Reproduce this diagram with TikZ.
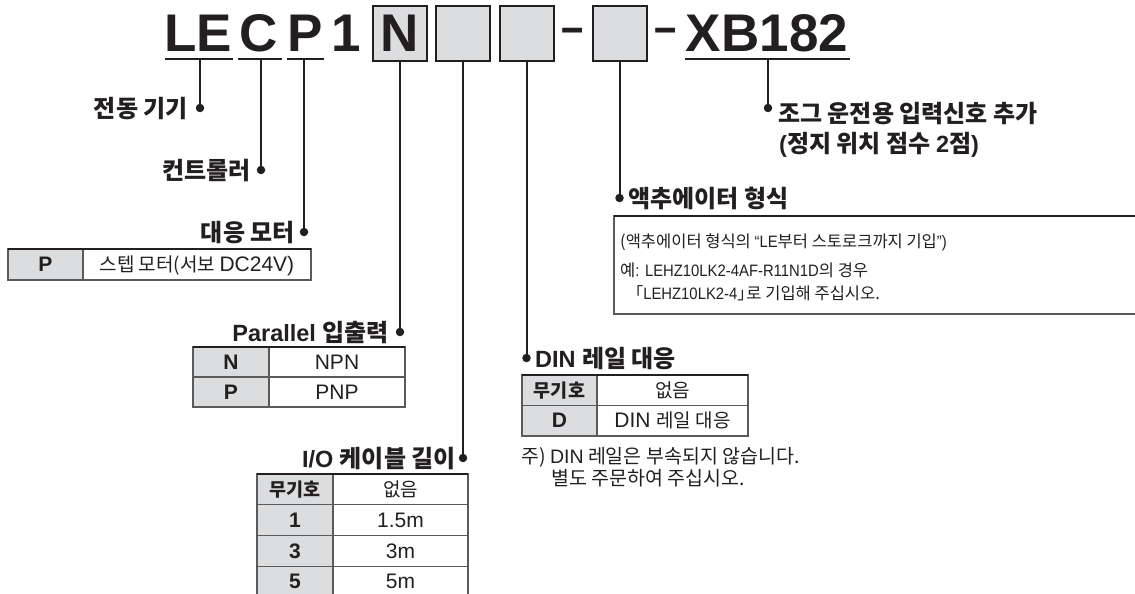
\documentclass[tikz,border=0pt]{standalone}
\usepackage{fontspec}
\setmainfont{Liberation Sans}
\newfontfamily\kr{Noto Sans CJK KR}
\newfontfamily\latc{Liberation Sans}[FakeStretch=0.9]
\def\krsize{18}
\newcommand\K[1]{{\kr\fontsize{\krsize}{\krsize}\selectfont #1}}
\definecolor{ink}{HTML}{231F20}
\definecolor{fillg}{HTML}{DCDDDE}
\definecolor{rulec}{HTML}{5A5A5A}
\tikzset{
  codetxt/.style={font=\bfseries\fontsize{53}{60}\selectfont, text=ink, inner sep=0pt, anchor=base},
  dashtxt/.style={font=\bfseries\fontsize{40}{40}\selectfont, text=ink, inner sep=0pt, anchor=base},
  codebox/.style={draw=ink, fill=fillg, line width=2pt, minimum width=54pt, minimum height=55pt, inner sep=0pt, outer sep=0pt},
  uline/.style={draw=ink, line width=2pt},
  lead/.style={draw=ink, line width=2pt},
  pin/.style={circle, fill=ink, inner sep=0pt, minimum size=8.5pt},
  lbl/.style={font=\bfseries\fontsize{23.5}{30}\selectfont\def\krsize{24}, text=ink, inner sep=0pt},
  txt/.style={font=\fontsize{19.5}{22}\selectfont\def\krsize{19.5}, text=ink, inner sep=0pt},
  smalltxt/.style={font=\latc\fontsize{16.5}{22}\selectfont\def\krsize{16.5}, text=ink, inner sep=0pt},
  cell/.style={draw=rulec, line width=1.3pt, inner sep=0pt, outer sep=0pt, anchor=north west,
    font=\fontsize{21}{22}\selectfont\def\krsize{19}, text=ink, text height=15pt, text depth=0.7pt},
  kcell/.style={cell, fill=fillg, font=\bfseries\fontsize{21}{22}\selectfont\def\krsize{18.5}},
  topline/.style={draw=ink, line width=2.4pt},
}
\begin{document}
\begin{tikzpicture}[x=1pt,y=-1pt]
\useasboundingbox (0,0) rectangle (1135,594);

% ---- model code ----
\node[codetxt] (cLE) at (198,52) {LE};
\node[codetxt] (cC) at (259,52) {C};
\node[codetxt] (cP) at (305,52) {P};
\node[codetxt] (c1) at (346,52) {1};
\node[codebox] (bN) at (400,33.5) {};
\node[codetxt] (cN) at (400,52) {N};
\node[codebox] (b2) at (463,33.5) {};
\node[codebox] (b3) at (526.5,33.5) {};
\node[dashtxt] (d1) at (572.5,43.6) {\scalebox{1}[1.2]{–}};
\node[codebox] (b4) at (619.5,33.5) {};
\node[dashtxt] (d2) at (666,43.6) {\scalebox{1}[1.2]{–}};
\node[codetxt] (cXB) at (767,52) {XB182};

\draw[uline] (165,59.3) -- (233,59.3);
\draw[uline] (238,59.3) -- (282,59.3);
\draw[uline] (287,59.3) -- (324,59.3);
\draw[uline] (685,59.3) -- (850,59.3);

% ---- leader pins ----
\coordinate (uLE) at (200,59.3);
\coordinate (uC) at (261,59.3);
\coordinate (uP) at (304,59.3);
\coordinate (uXB) at (768,59.3);
\node[pin] (pLE) at (200,108) {};
\node[pin] (pC) at (261,170) {};
\node[pin] (pP) at (304,232) {};
\node[pin] (pN) at (400,332) {};
\node[pin] (p2) at (463,458) {};
\node[pin] (p3) at (526.5,358) {};
\node[pin] (p4) at (619.5,198) {};
\node[pin] (pXB) at (768,108) {};
\draw[lead] (uLE) -- (pLE.center);
\draw[lead] (uC) -- (pC.center);
\draw[lead] (uP) -- (pP.center);
\draw[lead] (bN.south) -- (pN.center);
\draw[lead] (b2.south) -- (p2.center);
\draw[lead] (b3.south) -- (p3.center);
\draw[lead] (b4.south) -- (p4.center);
\draw[lead] (uXB) -- (pXB.center);

% ---- labels ----
\node[lbl, anchor=base east] (lLE) at (188,117) {\K{전동 기기}};
\node[lbl, anchor=base east] (lC) at (251,179) {\K{컨트롤러}};
\node[lbl, anchor=base east] (lP) at (295,241) {\K{대응 모터}};
\node[lbl, anchor=base east] (lN) at (389,341) {Parallel \K{입출력}};
\node[lbl, anchor=base east] (l2) at (456,467) {I/O \K{케이블 길이}};
\node[lbl, anchor=base west] (l3) at (535,367) {DIN \K{레일 대응}};
\node[lbl, anchor=base west] (l4) at (628,207) {\K{액추에이터 형식}};
\node[lbl, anchor=base west] (lXB) at (778,122) {\K{조그 운전용 입력신호 추가}};
\node[lbl, anchor=base west] (lXBb) at (779,152) {(\K{정지 위치 점수 }2\K{점})};

% ---- motor table ----
\node[kcell, minimum width=75pt, minimum height=31pt] (mk1) at (8,249) {P};
\node[cell, minimum width=228pt, minimum height=31pt] (mv1) at (mk1.north east) {\K{스텝 모터(서보 }DC24V)};
\draw[topline] (mk1.north west) -- (mv1.north east);

% ---- parallel table ----
\node[kcell, minimum width=76pt, minimum height=30pt] (nk1) at (193,347) {N};
\node[cell, minimum width=136pt, minimum height=30pt] (nv1) at (nk1.north east) {NPN};
\node[kcell, minimum width=76pt, minimum height=30pt] (nk2) at (nk1.south west) {P};
\node[cell, minimum width=136pt, minimum height=30pt] (nv2) at (nk2.north east) {PNP};
\draw[topline] (nk1.north west) -- (nv1.north east);

% ---- I/O cable table ----
\node[kcell, minimum width=76pt, minimum height=30.75pt] (ik1) at (257,474) {\K{무기호}};
\node[cell, minimum width=135pt, minimum height=30.75pt] (iv1) at (ik1.north east) {\K{없음}};
\node[kcell, minimum width=76pt, minimum height=30.75pt] (ik2) at (ik1.south west) {1};
\node[cell, minimum width=135pt, minimum height=30.75pt] (iv2) at (ik2.north east) {1.5m};
\node[kcell, minimum width=76pt, minimum height=30.75pt] (ik3) at (ik2.south west) {3};
\node[cell, minimum width=135pt, minimum height=30.75pt] (iv3) at (ik3.north east) {3m};
\node[kcell, minimum width=76pt, minimum height=30.75pt] (ik4) at (ik3.south west) {5};
\node[cell, minimum width=135pt, minimum height=30.75pt] (iv4) at (ik4.north east) {5m};
\draw[topline] (ik1.north west) -- (iv1.north east);

% ---- DIN table ----
\node[kcell, minimum width=75pt, minimum height=30.5pt] (dk1) at (522,375) {\K{무기호}};
\node[cell, minimum width=151pt, minimum height=30.5pt] (dv1) at (dk1.north east) {\K{없음}};
\node[kcell, minimum width=75pt, minimum height=30.5pt] (dk2) at (dk1.south west) {D};
\node[cell, minimum width=151pt, minimum height=30.5pt] (dv2) at (dk2.north east) {DIN \K{레일 대응}};
\draw[topline] (dk1.north west) -- (dv1.north east);
\node[txt, anchor=base west] (n1) at (521,463) {\K{주) }DIN\K{ 레일은 부속되지 않습니다.}};
\node[txt, anchor=base west] (n2) at (551,485) {\K{별도 주문하여 주십시오.}};

% ---- actuator box ----
\node[draw=rulec, line width=1.3pt, minimum width=540pt, minimum height=98pt, anchor=north west, inner sep=0pt, outer sep=0pt] (abox) at (614,216) {};
\draw[topline] (abox.north west) -- (abox.north east);
\node[smalltxt, anchor=base west] (a1) at (620,247) {\K{(액추에이터 형식의 }“LE\K{부터 스토로크까지 기입}”)};
\node[smalltxt, anchor=base west] (a2) at (620,276) {\K{예}: LEHZ10LK2-4AF-R11N1D\K{의 경우}};
\node[smalltxt, anchor=base west] (a3) at (634,299) {\K{\kern-0.45em「}LEHZ10LK2-4\K{」\kern-0.45em로 기입해 주십시오.}};
\end{tikzpicture}
\end{document}
